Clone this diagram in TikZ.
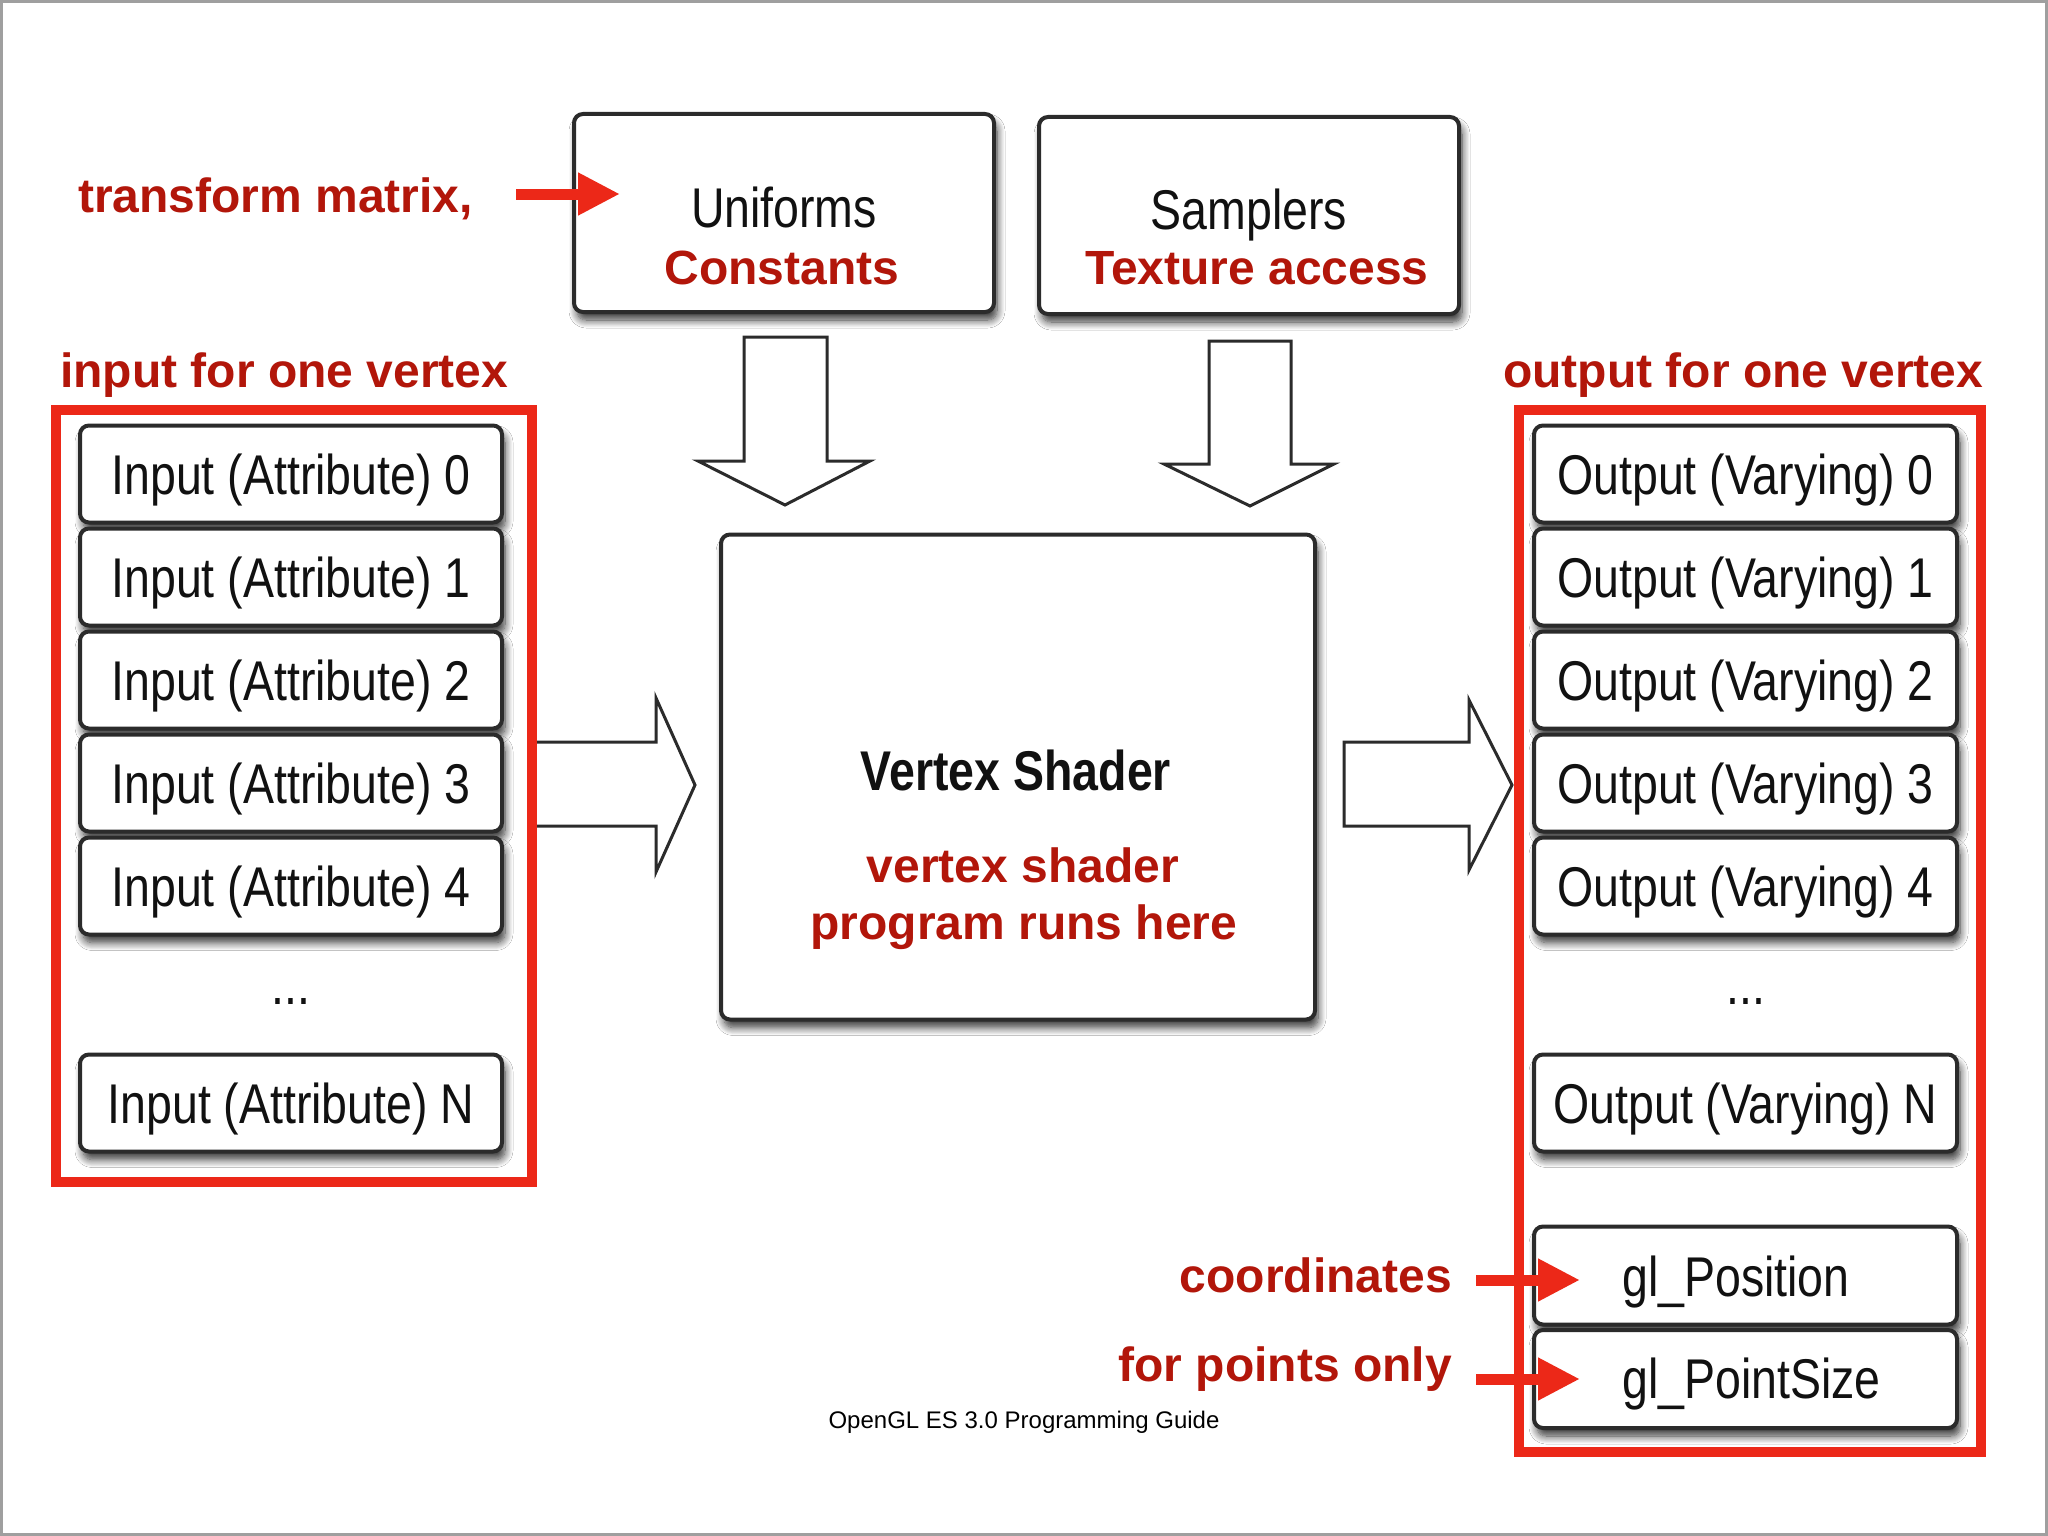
\documentclass[tikz,border=0pt]{standalone}
\usepackage{fontspec}
\setmainfont{Liberation Sans}
\newfontfamily\bookfont[FakeStretch=0.83]{Liberation Sans}
\usetikzlibrary{arrows.meta,shadows.blur}
\definecolor{labred}{HTML}{B2160A}
\definecolor{framered}{HTML}{EC2818}
\definecolor{boxline}{HTML}{2B2B2B}
\definecolor{booktxt}{HTML}{111111}
\begin{document}
\begin{tikzpicture}[x=1pt,y=-1pt,
  box/.style={draw=boxline, line width=4pt, rounded corners=9pt, fill=white,
     blur shadow={shadow xshift=3pt, shadow yshift=-8pt, shadow blur radius=8pt, shadow blur steps=10, shadow opacity=80},
     inner sep=0pt, text=booktxt, font=\bookfont\fontsize{56}{62}\selectfont, text height=40pt, text depth=0pt},
  booklbl/.style={inner sep=0pt, text=booktxt, font=\bookfont\fontsize{56}{62}\selectfont},
  bookbold/.style={inner sep=0pt, text=booktxt, font=\bookfont\bfseries\fontsize{56}{62}\selectfont},
  redlbl/.style={inner sep=0pt, text=labred, font=\bfseries\fontsize{48}{57}\selectfont},
  footlbl/.style={inner sep=0pt, text=black, font=\fontsize{24}{28}\selectfont},
  hollow/.style={draw=boxline, line width=3pt, fill=white, line join=miter},
  redarrow/.style={draw=framered, line width=11pt, -{Triangle[length=42pt,width=40pt]}},
  redframe/.style={draw=framered, line width=10pt}
]
\useasboundingbox (0,0) rectangle (2048,1536);
\fill[white] (0,0) rectangle (2048,1536);
\draw[gray!75, line width=3pt] (1.5,1.5) rectangle (2046.5,1534.5);

% top boxes
\node[box, minimum width=420pt, minimum height=198pt] (uni) at (784,213) {};
\node[booklbl, anchor=base] (unit) at (784,227) {Uniforms};
\node[redlbl, anchor=base] (const) at (782,284) {Constants};
\node[box, minimum width=420pt, minimum height=197pt] (samp) at (1249,215.5) {};
\node[booklbl, anchor=base] (sampt) at (1249,229) {Samplers};
\node[redlbl, anchor=base] (tex) at (1257,284) {Texture access};

% hollow arrows
\draw[hollow] (744,337) -- (827,337) -- (827,461) -- (870,461) -- (785,505) -- (698,461) -- (744,461) -- cycle;
\draw[hollow] (1209,341) -- (1291,341) -- (1291,464) -- (1334,464) -- (1250,506) -- (1164,464) -- (1209,464) -- cycle;
\draw[hollow] (530,742) -- (656,742) -- (656,698) -- (695,785) -- (656,872) -- (656,826) -- (530,826) -- cycle;
\draw[hollow] (1344,742) -- (1469,742) -- (1469,700) -- (1512,785) -- (1469,870) -- (1469,826) -- (1344,826) -- cycle;

% vertex shader
\node[box, minimum width=594pt, minimum height=485pt] (vs) at (1018,777) {};
\node[bookbold, anchor=base] (vst) at (1016,790) {Vertex Shader};
\node[redlbl, anchor=base] (vs1) at (1023,882) {vertex shader};
\node[redlbl, anchor=base] (vs2) at (1024,939) {program runs here};

% inputs
\foreach \i/\y in {0/474,1/577,2/680,3/783,4/886}{
  \node[box, minimum width=422pt, minimum height=97pt] (in\i) at (291,\y) {Input (Attribute) \i};
}
\node[booklbl, anchor=base] (indots) at (291,1004) {...};
\node[box, minimum width=422pt, minimum height=97pt] (inN) at (291,1103) {Input (Attribute) N};

% outputs
\foreach \i/\y in {0/474,1/577,2/680,3/783,4/886}{
  \node[box, minimum width=423pt, minimum height=97pt] (out\i) at (1745.5,\y) {Output (Varying) \i};
}
\node[booklbl, anchor=base] (outdots) at (1746,1004) {...};
\node[box, minimum width=423pt, minimum height=97pt] (outN) at (1745.5,1103) {Output (Varying) N};
\node[box, minimum width=423pt, minimum height=98pt] (glpos) at (1745.5,1275.5) {};
\node[booklbl, anchor=base west] (glpost) at (1622,1296) {gl\_Position};
\node[box, minimum width=423pt, minimum height=98pt] (glps) at (1745.5,1379) {};
\node[booklbl, anchor=base west] (glpst) at (1622,1398) {gl\_PointSize};

% red frames
\draw[redframe] (56,410) rectangle (532,1182);
\draw[redframe] (1519,410) rectangle (1981,1452);

% red labels
\node[redlbl, anchor=base west] (tm) at (78,212) {transform matrix,};
\node[redlbl, anchor=base west] (inlbl) at (60,387) {input for one vertex};
\node[redlbl, anchor=base west] (outlbl) at (1503,387) {output for one vertex};
\node[redlbl, anchor=base east] (co) at (1452,1292) {coordinates};
\node[redlbl, anchor=base east] (pts) at (1452,1381) {for points only};

% red arrows
\coordinate (tmA) at (516,194);
\coordinate (tmB) at (620,194);
\coordinate (coA) at (1476,1280);
\coordinate (coB) at (1580,1280);
\coordinate (ptA) at (1476,1379);
\coordinate (ptB) at (1580,1379);
\draw[redarrow] (tmA) -- (tmB);
\draw[redarrow] (coA) -- (coB);
\draw[redarrow] (ptA) -- (ptB);

% footer
\node[footlbl, anchor=base] (foot) at (1024,1428) {OpenGL ES 3.0 Programming Guide};
\end{tikzpicture}
\end{document}
